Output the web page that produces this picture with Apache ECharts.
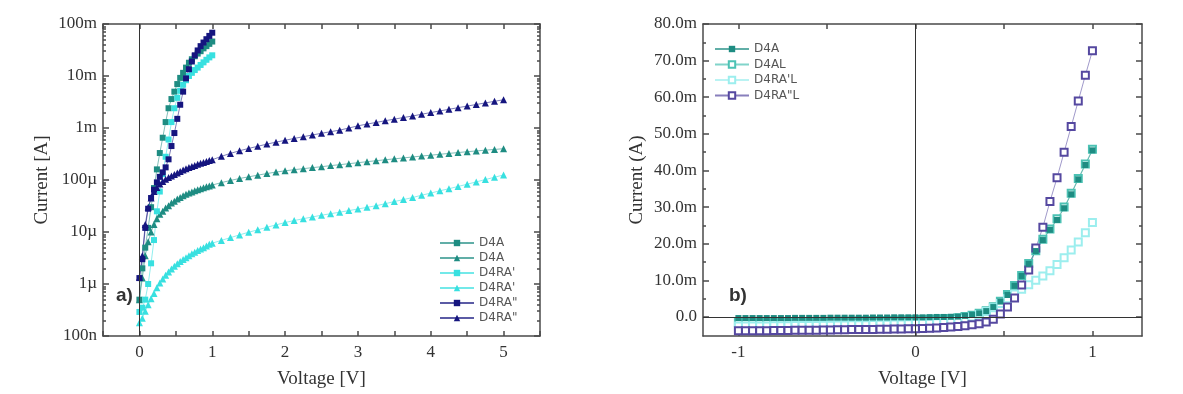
<!DOCTYPE html>
<html>
<head>
<meta charset="utf-8">
<script src="https://cdn.jsdelivr.net/npm/echarts@6/dist/echarts.min.js"></script>
<style>
html, body { margin: 0; padding: 0; background: #fff; }
#main { width: 1183px; height: 394px; }
</style>
</head>
<body>
<div id="main"></div>
<script>
// ---- data, left panel (log current, A) ----
let vSteep = [0, 0.04, 0.08, 0.12, 0.16, 0.2, 0.24, 0.28, 0.32, 0.36, 0.4, 0.44, 0.48, 0.52,
    0.56, 0.6, 0.64, 0.68, 0.72, 0.76, 0.8, 0.84, 0.88, 0.92, 0.96, 1.0];
let vHigh = [1.125, 1.25, 1.375, 1.5, 1.625, 1.75, 1.875, 2.0, 2.125, 2.25, 2.375, 2.5, 2.625,
    2.75, 2.875, 3.0, 3.125, 3.25, 3.375, 3.5, 3.625, 3.75, 3.875, 4.0, 4.125, 4.25, 4.375,
    4.5, 4.625, 4.75, 4.875, 5.0];
let vLong = vSteep.concat(vHigh);

let d4aSquare = [5e-7, 2e-6, 5e-6, 1.2e-5, 3e-5, 7e-5, 1.6e-4, 3.3e-4, 6.5e-4, 1.3e-3, 2.4e-3,
    3.6e-3, 5.0e-3, 7.0e-3, 9.2e-3, 1.15e-2, 1.45e-2, 1.8e-2, 2.1e-2, 2.4e-2, 2.7e-2, 3.0e-2,
    3.4e-2, 3.75e-2, 4.15e-2, 4.6e-2];
let d4aTriangle = [5e-7, 1.3e-6, 3.5e-6, 6.5e-6, 1e-5, 1.4e-5, 1.8e-5, 2.2e-5, 2.5e-5, 2.9e-5,
    3.2e-5, 3.6e-5, 3.9e-5, 4.3e-5, 4.6e-5, 5.0e-5, 5.3e-5, 5.6e-5, 5.9e-5, 6.2e-5, 6.5e-5,
    6.8e-5, 7.1e-5, 7.4e-5, 7.7e-5, 8.0e-5,
    8.9e-5, 9.8e-5, 1.07e-4, 1.15e-4, 1.24e-4, 1.33e-4, 1.42e-4, 1.5e-4, 1.58e-4, 1.65e-4,
    1.73e-4, 1.8e-4, 1.89e-4, 1.97e-4, 2.06e-4, 2.15e-4, 2.25e-4, 2.35e-4, 2.45e-4, 2.55e-4,
    2.66e-4, 2.77e-4, 2.89e-4, 3.0e-4, 3.12e-4, 3.25e-4, 3.37e-4, 3.5e-4, 3.62e-4, 3.75e-4,
    3.87e-4, 4.0e-4];
let d4raSquare = [2.9e-7, 3.5e-7, 5e-7, 1e-6, 2.5e-6, 7e-6, 2.5e-5, 6e-5, 1.3e-4, 2.8e-4, 6e-4,
    1.3e-3, 2.4e-3, 3.8e-3, 5.2e-3, 6.8e-3, 8.3e-3, 1.0e-2, 1.15e-2, 1.3e-2, 1.45e-2, 1.63e-2,
    1.83e-2, 2.05e-2, 2.28e-2, 2.5e-2];
let d4raTriangle = [1.8e-7, 2.2e-7, 3e-7, 4e-7, 5.2e-7, 6.6e-7, 8.5e-7, 1.05e-6, 1.25e-6,
    1.48e-6, 1.7e-6, 1.95e-6, 2.2e-6, 2.45e-6, 2.7e-6, 2.95e-6, 3.2e-6, 3.5e-6, 3.8e-6, 4.1e-6,
    4.4e-6, 4.7e-6, 5.0e-6, 5.4e-6, 5.8e-6, 6.1e-6,
    6.9e-6, 7.8e-6, 8.8e-6, 9.9e-6, 1.1e-5, 1.23e-5, 1.37e-5, 1.52e-5, 1.66e-5, 1.8e-5,
    1.95e-5, 2.1e-5, 2.25e-5, 2.4e-5, 2.58e-5, 2.77e-5, 2.98e-5, 3.2e-5, 3.5e-5, 3.85e-5,
    4.2e-5, 4.6e-5, 5.1e-5, 5.6e-5, 6.2e-5, 6.8e-5, 7.5e-5, 8.3e-5, 9.2e-5, 1.02e-4,
    1.13e-4, 1.25e-4];
let d4ra2Square = [1.3e-6, 3e-6, 1.2e-5, 2.8e-5, 4.5e-5, 6.5e-5, 9e-5, 1.15e-4, 1.4e-4, 1.75e-4,
    2.5e-4, 4.5e-4, 8e-4, 1.5e-3, 2.8e-3, 5e-3, 9e-3, 1.35e-2, 1.9e-2, 2.5e-2, 3.1e-2, 3.75e-2,
    4.4e-2, 5.1e-2, 5.9e-2, 6.8e-2];
let d4ra2Triangle = [1.35e-6, 3.5e-6, 1.4e-5, 3e-5, 4.5e-5, 6e-5, 7.2e-5, 8.4e-5, 9.4e-5,
    1.03e-4, 1.12e-4, 1.2e-4, 1.28e-4, 1.37e-4, 1.46e-4, 1.55e-4, 1.64e-4, 1.73e-4, 1.82e-4,
    1.91e-4, 2.0e-4, 2.09e-4, 2.18e-4, 2.27e-4, 2.36e-4, 2.45e-4,
    2.85e-4, 3.25e-4, 3.65e-4, 4.05e-4, 4.45e-4, 4.9e-4, 5.35e-4, 5.8e-4, 6.3e-4, 6.8e-4,
    7.35e-4, 7.9e-4, 8.5e-4, 9.1e-4, 1.0e-3, 1.1e-3, 1.19e-3, 1.28e-3, 1.38e-3, 1.48e-3,
    1.59e-3, 1.7e-3, 1.84e-3, 1.98e-3, 2.13e-3, 2.29e-3, 2.46e-3, 2.64e-3, 2.83e-3, 3.04e-3,
    3.26e-3, 3.5e-3];

let logTickLabels = ['100n', '1\u00b5', '10\u00b5', '100\u00b5', '1m', '10m', '100m'];
let xTicksLeft = [0, 1, 2, 3, 4, 5];

// ---- data, right panel (linear current, mA) ----
let vSweep = [-1, -0.96, -0.92, -0.88, -0.84, -0.8, -0.76, -0.72, -0.68, -0.64, -0.6, -0.56,
    -0.52, -0.48, -0.44, -0.4, -0.36, -0.32, -0.28, -0.24, -0.2, -0.16, -0.12, -0.08, -0.04, 0,
    0.04, 0.08, 0.12, 0.16, 0.2, 0.24, 0.28, 0.32, 0.36, 0.4, 0.44, 0.48, 0.52, 0.56, 0.6, 0.64,
    0.68, 0.72, 0.76, 0.8, 0.84, 0.88, 0.92, 0.96, 1.0];
let d4aIV = [-0.3, -0.3, -0.3, -0.3, -0.3, -0.3, -0.3, -0.3, -0.25, -0.25, -0.25, -0.25, -0.25,
    -0.2, -0.2, -0.2, -0.2, -0.2, -0.2, -0.15, -0.15, -0.15, -0.1, -0.1, -0.1, -0.1,
    -0.1, -0.05, 0, 0, 0.05, 0.1, 0.3, 0.6, 1.0, 1.6, 2.7, 4.2, 6.0, 8.5, 11.2, 14.5, 18, 21,
    23.8, 26.5, 29.7, 33.5, 37.6, 41.5, 45.5];
let d4alIV = [-1.5, -1.5, -1.5, -1.5, -1.45, -1.45, -1.4, -1.4, -1.4, -1.35, -1.35, -1.3, -1.3,
    -1.25, -1.2, -1.2, -1.15, -1.1, -1.05, -1.0, -1.0, -0.95, -0.9, -0.85, -0.8, -0.75,
    -0.7, -0.65, -0.6, -0.5, -0.4, -0.2, 0.1, 0.5, 1.0, 1.7, 2.8, 4.3, 6.1, 8.6, 11.3, 14.6,
    18.1, 21.2, 24, 26.8, 30, 33.8, 37.8, 41.8, 45.8];
let d4ralIV = [-2.5, -2.5, -2.5, -2.45, -2.45, -2.4, -2.4, -2.4, -2.35, -2.35, -2.3, -2.3, -2.25,
    -2.25, -2.2, -2.2, -2.15, -2.1, -2.1, -2.05, -2.0, -2.0, -1.95, -1.9, -1.85, -1.8,
    -1.75, -1.7, -1.6, -1.5, -1.3, -1.0, -0.6, 0, 0.7, 1.5, 2.5, 3.7, 5.0, 6.3, 7.6, 8.8, 10,
    11.2, 12.6, 14.3, 16.2, 18.3, 20.5, 23, 25.8];
let d4ra2lIV = [-3.8, -3.8, -3.8, -3.75, -3.75, -3.7, -3.7, -3.7, -3.65, -3.65, -3.6, -3.6,
    -3.55, -3.55, -3.5, -3.5, -3.45, -3.45, -3.4, -3.4, -3.35, -3.35, -3.3, -3.3, -3.25, -3.2,
    -3.15, -3.1, -3.0, -2.9, -2.75, -2.6, -2.4, -2.15, -1.85, -1.4, -0.6, 0.8, 2.7, 5.2, 8.7,
    12.8, 18.8, 24.5, 31.5, 38, 45, 52, 59, 66, 72.7];

let xTicksRight = [-1, -0.5, 0, 0.5, 1];
let xLabelsRight = [-1, 0, 1];
let yMajorRight = [0, 10, 20, 30, 40, 50, 60, 70, 80];
let yMinorRight = [5, 15, 25, 35, 45, 55, 65, 75];

// ---- helpers ----
const serif = '"Liberation Serif", "Times New Roman", serif';
const sans = '"DejaVu Sans", Arial, sans-serif';
const frame = { color: '#4a4a4a', width: 1.5 };
const noLine = { show: false, onZero: false };

function zip(xs, ys) {
    return xs.map((x, i) => [x, ys[i]]);
}

function logMinorTicks() {
    let out = [];
    for (let e = -7; e < -1; e++) {
        for (let k = 2; k <= 9; k++) {
            out.push(k * Math.pow(10, e));
        }
    }
    return out;
}

function plainAxis(extra) {
    return Object.assign({
        type: 'value',
        axisLine: { show: true, onZero: false, lineStyle: frame },
        axisTick: { show: true, inside: true, length: 5, lineStyle: frame },
        axisLabel: { show: false },
        splitLine: { show: false }
    }, extra);
}

function serifLabel(extra) {
    return Object.assign({
        show: true, fontFamily: serif, fontSize: 17, color: '#333'
    }, extra);
}

const nameStyle = { fontFamily: serif, fontSize: 19, color: '#333' };

let xAxes = [
    plainAxis({
        gridIndex: 0, position: 'bottom', min: -0.5, max: 5.5, interval: 0.5,
        axisLabel: serifLabel({ margin: 8, formatter: v => xTicksLeft.indexOf(v) >= 0 ? String(v) : '' }),
        name: 'Voltage [V]', nameLocation: 'middle', nameGap: 34, nameTextStyle: nameStyle
    }),
    plainAxis({ gridIndex: 0, position: 'top', min: -0.5, max: 5.5, interval: 0.5 }),
    plainAxis({
        gridIndex: 1, position: 'bottom', min: -1.2, max: 1.28,
        axisTick: { show: true, inside: true, length: 5, lineStyle: frame, customValues: xTicksRight },
        axisLabel: serifLabel({ margin: 8, customValues: xLabelsRight }),
        name: 'Voltage [V]', nameLocation: 'middle', nameGap: 34, nameTextStyle: nameStyle
    }),
    plainAxis({
        gridIndex: 1, position: 'top', min: -1.2, max: 1.28,
        axisTick: { show: true, inside: true, length: 5, lineStyle: frame, customValues: xTicksRight }
    })
];

let logFormat = v => logTickLabels[Math.round(Math.log10(v)) + 7];

let yAxes = [
    plainAxis({
        type: 'log', logBase: 10, gridIndex: 0, position: 'left', min: 1e-7, max: 0.1,
        axisTick: { show: true, inside: true, length: 6, lineStyle: frame },
        axisLabel: serifLabel({ margin: 6, formatter: logFormat }),
        name: 'Current [A]', nameLocation: 'middle', nameGap: 51, nameRotate: 90,
        nameTextStyle: nameStyle
    }),
    plainAxis({
        type: 'log', logBase: 10, gridIndex: 0, position: 'left', min: 1e-7, max: 0.1,
        axisLine: noLine,
        axisTick: { show: true, inside: true, length: 3, lineStyle: frame, customValues: logMinorTicks() }
    }),
    plainAxis({
        type: 'log', logBase: 10, gridIndex: 0, position: 'right', min: 1e-7, max: 0.1,
        axisTick: { show: true, inside: true, length: 6, lineStyle: frame }
    }),
    plainAxis({
        type: 'log', logBase: 10, gridIndex: 0, position: 'right', min: 1e-7, max: 0.1,
        axisLine: noLine,
        axisTick: { show: true, inside: true, length: 3, lineStyle: frame, customValues: logMinorTicks() }
    }),
    plainAxis({
        gridIndex: 1, position: 'left', min: -5.2, max: 80,
        axisTick: { show: true, inside: true, length: 6, lineStyle: frame, customValues: yMajorRight },
        axisLabel: serifLabel({
            margin: 6, customValues: yMajorRight,
            formatter: v => v === 0 ? '0.0' : v.toFixed(1) + 'm'
        }),
        name: 'Current (A)', nameLocation: 'middle', nameGap: 56, nameRotate: 90,
        nameTextStyle: nameStyle
    }),
    plainAxis({
        gridIndex: 1, position: 'left', min: -5.2, max: 80,
        axisLine: noLine,
        axisTick: { show: true, inside: true, length: 3, lineStyle: frame, customValues: yMinorRight }
    }),
    plainAxis({
        gridIndex: 1, position: 'right', min: -5.2, max: 80,
        axisTick: { show: true, inside: true, length: 6, lineStyle: frame, customValues: yMajorRight }
    }),
    plainAxis({
        gridIndex: 1, position: 'right', min: -5.2, max: 80,
        axisLine: noLine,
        axisTick: { show: true, inside: true, length: 3, lineStyle: frame, customValues: yMinorRight }
    })
];

const teal = '#1e8c82';
const tealLight = '#4cc2b4';
const cyan = '#38e0e0';
const cyanLight = '#9ceeee';
const navy = '#15157f';
const purple = '#5548a0';

function curve(name, grid, xs, ys, symbol, size, color, extra) {
    return Object.assign({
        type: 'line',
        name: name,
        xAxisIndex: grid === 0 ? 0 : 2,
        yAxisIndex: grid === 0 ? 0 : 4,
        data: zip(xs, ys),
        symbol: symbol,
        symbolSize: size,
        showSymbol: true,
        itemStyle: { color: color },
        lineStyle: { color: color, width: 0.8, opacity: 0.7 },
        emphasis: { disabled: true }
    }, extra);
}

const zeroLine = {
    silent: true, symbol: 'none', label: { show: false },
    lineStyle: { color: '#333', width: 1, type: 'solid' }
};

let series = [
    curve('D4A', 0, vSteep, d4aSquare, 'rect', 6, teal, {
        markLine: Object.assign({ data: [{ xAxis: 0 }] }, zeroLine)
    }),
    curve('D4A ', 0, vLong, d4aTriangle, 'triangle', 7, teal),
    curve("D4RA'", 0, vSteep, d4raSquare, 'rect', 6, cyan),
    curve("D4RA' ", 0, vLong, d4raTriangle, 'triangle', 7, cyan),
    curve('D4RA"', 0, vSteep, d4ra2Square, 'rect', 6, navy),
    curve('D4RA" ', 0, vLong, d4ra2Triangle, 'triangle', 7, navy),

    curve('D4AL', 1, vSweep, d4alIV, 'emptyRect', 7, tealLight, {
        markLine: Object.assign({ data: [{ xAxis: 0 }, { yAxis: 0 }] }, zeroLine)
    }),
    curve("D4RA'L", 1, vSweep, d4ralIV, 'emptyRect', 7, cyanLight),
    curve('D4RA"L', 1, vSweep, d4ra2lIV, 'emptyRect', 7, purple),
    curve('D4A  ', 1, vSweep, d4aIV, 'rect', 6, teal, { z: 3 })
];

let legendText = { fontFamily: sans, fontSize: 12, color: '#555' };

let option = {
    animation: false,
    backgroundColor: '#fff',
    grid: [
        { left: 103, top: 24, width: 437, height: 312 },
        { left: 703, top: 24, width: 439, height: 312 }
    ],
    legend: [
        {
            data: ['D4A', 'D4A ', "D4RA'", "D4RA' ", 'D4RA"', 'D4RA" '],
            orient: 'vertical', left: 434, top: 232, itemWidth: 34, itemHeight: 8, itemGap: 3,
            textStyle: legendText, selectedMode: false
        },
        {
            data: ['D4A  ', 'D4AL', "D4RA'L", 'D4RA"L'],
            orient: 'vertical', left: 709, top: 38, itemWidth: 34, itemHeight: 8, itemGap: 3.5,
            textStyle: legendText, selectedMode: false
        }
    ],
    graphic: [
        { type: 'text', left: 116, top: 286, style: { text: 'a)', font: 'bold 19px "Liberation Sans", Arial, sans-serif', fill: '#333' } },
        { type: 'text', left: 729, top: 286, style: { text: 'b)', font: 'bold 19px "Liberation Sans", Arial, sans-serif', fill: '#333' } }
    ],
    xAxis: xAxes,
    yAxis: yAxes,
    series: series
};

let myChart = echarts.init(document.getElementById('main'), null, { renderer: 'canvas' });
myChart.setOption(option);
</script>
</body>
</html>
